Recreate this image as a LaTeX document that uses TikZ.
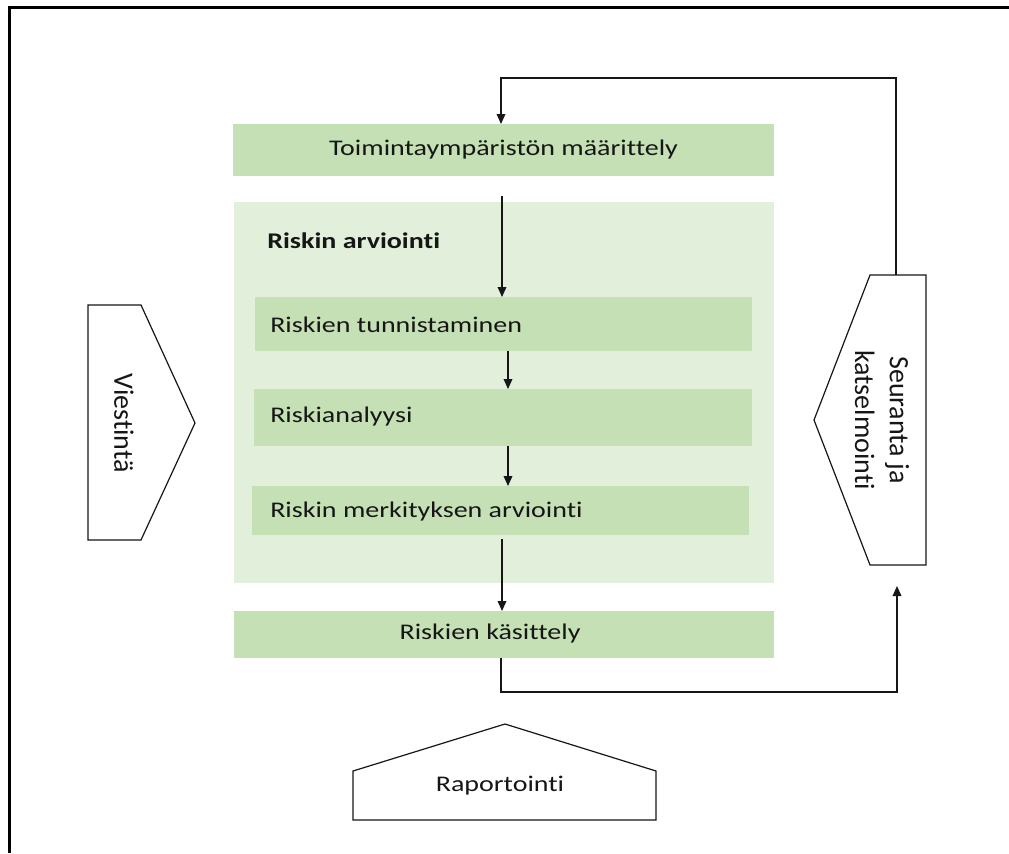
\documentclass[tikz,border=0pt]{standalone}
\usepackage{fontspec}
\setmainfont{Carlito}[Ligatures={NoCommon}]
\usetikzlibrary{arrows.meta,fit}
\definecolor{boxdark}{HTML}{C5E0B4}
\definecolor{boxlight}{HTML}{E2EFDA}
\definecolor{ink}{HTML}{161616}
\newcommand{\sq}[1]{\scalebox{1}[0.8]{#1}}
\begin{document}
\begin{tikzpicture}[x=0.75pt,y=-0.75pt,
  darkbox/.style={fill=boxdark, draw=none, inner sep=0pt, outer sep=0pt},
  lightbox/.style={fill=boxlight, draw=none, inner sep=0pt, outer sep=0pt},
  htext/.style={font=\fontsize{21}{25}\selectfont, text=ink, inner sep=0pt},
  vtext/.style={font=\fontsize{21}{26}\selectfont, text=ink, inner sep=0pt, rotate=-90, align=center},
  shapeline/.style={draw=ink, line width=0.9pt, fill=white, line join=miter},
  arr/.style={draw=ink, line width=1pt, -{Triangle[length=7.5pt,width=6.5pt]}},
  conn/.style={draw=ink, line width=1pt}]
\useasboundingbox (0,0) rectangle (1009,853);
% frame
\draw[line width=2pt] (9.7,853) -- (9.7,7.5) -- (1009,7.5);

% boxes
\node[fit={(234,202)(774,583)}, lightbox] (assess) {};
\node[fit={(233,124)(774,176)}, darkbox] (ctx) {};
\node[fit={(255,297)(752,351)}, darkbox] (tunn) {};
\node[fit={(254,389)(752,446)}, darkbox] (anal) {};
\node[fit={(252,486)(749,535)}, darkbox] (merk) {};
\node[fit={(234,611)(774,658)}, darkbox] (kas) {};

% texts
\node[htext] (tctx) at (ctx.center) {\sq{Toimintaympäristön määrittely}};
\node[htext, anchor=west] (tass) at (267,241) {\sq{\bfseries Riskin arviointi}};
\node[htext, anchor=west] (ttunn) at (270,325) {\sq{Riskien tunnistaminen}};
\node[htext, anchor=west] (tanal) at (270,417) {\sq{Riskianalyysi}};
\node[htext, anchor=west] (tmerk) at (270,512) {\sq{Riskin merkityksen arviointi}};
\node[htext] (tkas) at (490,634) {\sq{Riskien käsittely}};

% side shapes
\draw[shapeline] (88,305) -- (141,305) -- (195,423) -- (141,540) -- (88,540) -- cycle;
\node[vtext] (viest) at (124,423) {Viestintä};
\draw[shapeline] (926,275) -- (870,275) -- (814,420) -- (870,565) -- (926,565) -- cycle;
\node[vtext] (seur) at (882,420) {Seuranta ja\\katselmointi};
\draw[shapeline] (353,820) -- (353,771) -- (505,724) -- (656,771) -- (656,820) -- cycle;
\node[htext] (rap) at (500,786) {\sq{Raportointi}};

\coordinate (seurtop) at (896,275);
\coordinate (seurbot) at (897,586);
\coordinate (cA) at (502,196);
\coordinate (cB) at (508,0);
\coordinate (cC) at (502,539);
\coordinate (cD) at (501,0);

% connectors
\draw[arr] (seurtop) |- (501,78) -- (ctx.north -| cD);
\draw[arr] (cA) -- (tunn.north -| cA);
\draw[arr] (tunn.south -| cB) -- (anal.north -| cB);
\draw[arr] (anal.south -| cB) -- (merk.north -| cB);
\draw[arr] (cC) -- (kas.north -| cC);
\draw[arr] (kas.south -| cD) -- (501,692) -| (seurbot);
\end{tikzpicture}
\end{document}
